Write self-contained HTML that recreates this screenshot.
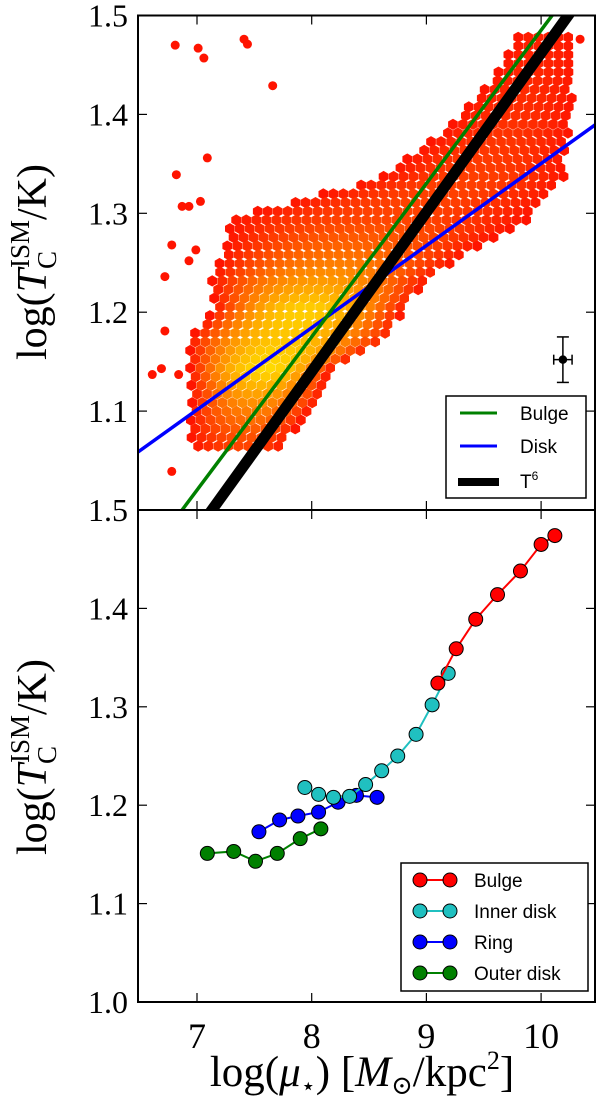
<!DOCTYPE html>
<html><head><meta charset="utf-8"><style>
html,body{margin:0;padding:0;background:#fff;}
svg{display:block;}
text{font-family:"Liberation Serif","DejaVu Serif",serif;}
.leg{font-family:"Liberation Sans","DejaVu Sans",sans-serif;font-size:19px;}
</style></head><body>
<svg id="fig" width="600" height="1113" viewBox="0 0 600 1113" xmlns="http://www.w3.org/2000/svg">
<defs>
<clipPath id="clipTop"><rect x="138" y="15" width="457" height="495"/></clipPath>
<clipPath id="clipBot"><rect x="138" y="510" width="457" height="493"/></clipPath>
</defs>
<g id="topHex" clip-path="url(#clipTop)"></g>
<g id="topLines" clip-path="url(#clipTop)"></g>
<g id="botSeries" clip-path="url(#clipBot)"></g>
<g id="axes"></g>
<g id="legTop">
<rect x="446" y="396" width="140" height="102" fill="#fff" stroke="#000" stroke-width="1.5"/>
<line x1="460" y1="413" x2="497" y2="413" stroke="#008000" stroke-width="3"/>
<text class="leg" x="520" y="420">Bulge</text>
<line x1="460" y1="446" x2="497" y2="446" stroke="#0000ff" stroke-width="3"/>
<text class="leg" x="520" y="453">Disk</text>
<line x1="458" y1="482" x2="499" y2="482" stroke="#000" stroke-width="8"/>
<text class="leg" x="520" y="488">T<tspan dy="-8" font-size="12">6</tspan></text>
</g>
<g id="legBot">
<rect x="401" y="863" width="187" height="128" fill="#fff" stroke="#000" stroke-width="1.5"/>
</g>
<text x="46" y="262" font-size="42" text-anchor="middle" transform="rotate(-90 46 262)">log(<tspan font-style="italic">T</tspan><tspan font-size="27" dy="10">C</tspan><tspan font-size="27" dy="-27" dx="-17">ISM</tspan><tspan dy="17">/K)</tspan></text>
<text x="46" y="757" font-size="42" text-anchor="middle" transform="rotate(-90 46 757)">log(<tspan font-style="italic">T</tspan><tspan font-size="27" dy="10">C</tspan><tspan font-size="27" dy="-27" dx="-17">ISM</tspan><tspan dy="17">/K)</tspan></text>
<text x="362" y="1086" font-size="43" text-anchor="middle">log(<tspan font-style="italic">μ</tspan><tspan font-size="24" dy="8">⋆</tspan><tspan dy="-8">) [</tspan><tspan font-style="italic">M</tspan><tspan font-size="26" dy="8">⊙</tspan><tspan dy="-8">/kpc</tspan><tspan font-size="26" dy="-17">2</tspan><tspan dy="17">]</tspan></text>
</svg>
<script>
// ---- data ----
const xTicks = [7, 8, 9, 10];
const yTicksTop = [1.1, 1.2, 1.3, 1.4, 1.5];
const yTicksBot = [1.0, 1.1, 1.2, 1.3, 1.4];
const rowY    = [1.056,1.081,1.112,1.142,1.173,1.203,1.234,1.264,1.295,1.335,1.386,1.437,1.478];
const rowMin  = [6.98, 6.94, 6.96, 6.94, 6.94, 7.16, 7.13, 7.26, 7.30, 8.60, 9.20, 9.60, 9.80];
const rowMax  = [7.72, 7.85, 8.07, 8.16, 8.68, 8.81, 9.03, 9.40, 9.90, 10.20,10.25,10.30,10.30];
const rowPeak = [7.40, 7.45, 7.50, 7.60, 7.75, 7.95, 8.10, 8.30, 8.60, 9.40, 9.70, 9.90, 10.0];
const rowLevel= [0.15, 0.30, 0.55, 0.85, 0.75, 0.80, 0.55, 0.35, 0.20, 0.18, 0.12, 0.08, 0.05];
const outX = [6.81,7.01,7.06,7.41,7.44,7.66,7.09,6.82,6.87,6.93,7.03,6.78,6.99,6.93,6.72,6.72,6.61,6.69,6.84,6.78,10.34];
const outY = [1.470,1.467,1.457,1.476,1.471,1.429,1.356,1.339,1.307,1.307,1.312,1.268,1.263,1.252,1.236,1.181,1.137,1.143,1.137,1.039,1.476];
const bulgeFit = [0.155, 6.87, 1.0];   // slope, x0, y0
const diskFit  = [0.083, 6.55, 1.064];
const t6Fit    = [0.161, 7.13, 1.0];
const errX = 10.19, errY = 1.152, errXE = 0.08, errYE = 0.023;
const bulgeX = [9.10,9.26,9.43,9.62,9.82,10.00,10.12];
const bulgeY = [1.324,1.359,1.389,1.414,1.438,1.465,1.474];
const innerX = [7.94,8.06,8.19,8.33,8.47,8.61,8.75,8.91,9.05,9.19];
const innerY = [1.218,1.211,1.208,1.209,1.221,1.235,1.250,1.272,1.302,1.334];
const ringX  = [7.54,7.72,7.88,8.06,8.23,8.39,8.57];
const ringY  = [1.173,1.185,1.189,1.193,1.203,1.210,1.208];
const outerX = [7.09,7.32,7.51,7.70,7.90,8.08];
const outerY = [1.151,1.153,1.143,1.151,1.166,1.176];

// ---- scales ----
const X0 = 138, X1 = 595, TOP = 15.5, MID = 510, BOT = 1002;
function sx(v){ return 197 + (v - 7) * 114.7; }
function syT(v){ return MID - (v - 1.0) * 989; }
function syB(v){ return BOT - (v - 1.0) * 984; }
const NS = "http://www.w3.org/2000/svg";
function mk(tag, attrs, parent){ const e = document.createElementNS(NS, tag); for (const k in attrs) e.setAttribute(k, attrs[k]); parent.appendChild(e); return e; }
function interp(arr, y){
  if (y <= rowY[0]) return arr[0];
  for (let i = 1; i < rowY.length; i++) if (y <= rowY[i]) { const t = (y - rowY[i-1])/(rowY[i]-rowY[i-1]); return arr[i-1] + t*(arr[i]-arr[i-1]); }
  return arr[arr.length-1];
}

// ---- hexbin ----
const hexG = document.getElementById('topHex');
const dxp = 10, dyp = 8.7;
let r = 0;
for (let py = syT(rowY[rowY.length-1]); py <= syT(rowY[0]) + 0.1; py += dyp, r++) {
  const yv = 1.0 + (MID - py) / 989;
  const mn = interp(rowMin, yv), mx = interp(rowMax, yv), pk = interp(rowPeak, yv), lv = interp(rowLevel, yv);
  for (let px = sx(mn) + (r % 2 ? dxp/2 : 0); px <= sx(mx); px += dxp) {
    const xv = 7 + (px - 197) / 114.7;
    const half = xv < pk ? (pk - mn) : (mx - pk);
    const d = Math.min(1, Math.abs(xv - pk) / Math.max(half, 0.05));
    const inten = Math.max(0, lv * (1 - d * d));
    const g = Math.round(20 + 235 * inten);
    const pts = [];
    for (let k = 0; k < 6; k++) { const a = Math.PI/6 + k*Math.PI/3; pts.push((px + 5.6*Math.cos(a)).toFixed(1) + ',' + (py + 5.6*Math.sin(a)).toFixed(1)); }
    const h = mk('polygon', {points: pts.join(' '), fill: 'rgb(255,' + g + ',0)'}, hexG);
    
    
  }
}
for (let i = 0; i < outX.length; i++) {
  const c = mk('circle', {cx: sx(outX[i]), cy: syT(outY[i]), r: 4.5, fill: '#ff1400'}, hexG);
  
  
}

// ---- fit lines ----
const lineG = document.getElementById('topLines');
function fitLine(f, color, w, name){
  const xa = 6.3, xb = 10.6;
  const l = mk('line', {x1: sx(xa), y1: syT(f[2] + f[0]*(xa - f[1])), x2: sx(xb), y2: syT(f[2] + f[0]*(xb - f[1])), stroke: color, 'stroke-width': w}, lineG);
  
  
}
fitLine(diskFit, '#0000ff', 3.5, 'disk-fit-line');
fitLine(bulgeFit, '#008000', 3.5, 'bulge-fit-line');
fitLine(t6Fit, '#000000', 11, 't6-line');
const eb = mk('g', {stroke: '#000', 'stroke-width': 1.5}, lineG);


mk('line', {x1: sx(errX), x2: sx(errX), y1: syT(errY+errYE), y2: syT(errY-errYE)}, eb);
mk('line', {x1: sx(errX)-6, x2: sx(errX)+6, y1: syT(errY+errYE), y2: syT(errY+errYE)}, eb);
mk('line', {x1: sx(errX)-6, x2: sx(errX)+6, y1: syT(errY-errYE), y2: syT(errY-errYE)}, eb);
mk('line', {x1: sx(errX-errXE), x2: sx(errX+errXE), y1: syT(errY), y2: syT(errY)}, eb);
mk('line', {x1: sx(errX-errXE), x2: sx(errX-errXE), y1: syT(errY)-5, y2: syT(errY)+5}, eb);
mk('line', {x1: sx(errX+errXE), x2: sx(errX+errXE), y1: syT(errY)-5, y2: syT(errY)+5}, eb);
mk('circle', {cx: sx(errX), cy: syT(errY), r: 3.5, fill: '#000'}, eb);

// ---- bottom series ----
const botG = document.getElementById('botSeries');
function series(xs, ys, color, name){
  const g = mk('g', {}, botG);
  
  
  mk('polyline', {points: xs.map((v,i) => sx(v) + ',' + syB(ys[i])).join(' '), fill: 'none', stroke: color, 'stroke-width': 2}, g);
  xs.forEach((v, i) => {
    const c = mk('circle', {cx: sx(v), cy: syB(ys[i]), r: 7, fill: color, stroke: '#000', 'stroke-width': 1}, g);
    
    
  });
}
series(outerX, outerY, '#008000', 'outer-disk-series');
series(ringX, ringY, '#0000ff', 'ring-series');
series(innerX, innerY, '#20c0c0', 'inner-disk-series');
series(bulgeX, bulgeY, '#ff0000', 'bulge-series');

// ---- bottom legend ----
const lb = document.getElementById('legBot');
const legNames = ['Bulge', 'Inner disk', 'Ring', 'Outer disk'];
const legCols = ['#ff0000', '#20c0c0', '#0000ff', '#008000'];
legNames.forEach((n, i) => {
  const y = 880 + i * 31;
  const g = mk('g', {}, lb);
  
  
  mk('line', {x1: 420, y1: y, x2: 450, y2: y, stroke: legCols[i], 'stroke-width': 2}, g);
  mk('circle', {cx: 420, cy: y, r: 7, fill: legCols[i], stroke: '#000'}, g);
  mk('circle', {cx: 450, cy: y, r: 7, fill: legCols[i], stroke: '#000'}, g);
  const t = mk('text', {x: 474, y: y + 7, class: 'leg'}, g);
  t.textContent = n;
});

// ---- axes ----
const ax = document.getElementById('axes');
[[TOP, MID, 'top-panel-frame'], [MID, BOT, 'bottom-panel-frame']].forEach(([a, b, nm]) => {
  const f = mk('rect', {x: X0, y: a, width: X1 - X0, height: b - a, fill: 'none', stroke: '#000', 'stroke-width': 2}, ax);
  
  
  xTicks.forEach(v => {
    mk('line', {x1: sx(v), x2: sx(v), y1: b, y2: b - 9, stroke: '#000', 'stroke-width': 1.2}, ax);
    mk('line', {x1: sx(v), x2: sx(v), y1: a, y2: a + 9, stroke: '#000', 'stroke-width': 1.2}, ax);
  });
});
function yt(v, y, name){
  mk('line', {x1: X0, x2: X0 + 9, y1: y, y2: y, stroke: '#000', 'stroke-width': 1.2}, ax);
  mk('line', {x1: X1, x2: X1 - 9, y1: y, y2: y, stroke: '#000', 'stroke-width': 1.2}, ax);
  const t = mk('text', {x: 128, y: y + 11, 'font-size': 32, 'text-anchor': 'end'}, ax);
  t.textContent = v.toFixed(1);
  
  
}
yTicksTop.forEach(v => yt(v, syT(v), 'y-tick-label-top'));
yt(1.5, MID, 'y-tick-label-top');
yTicksBot.forEach(v => { if (v > 1.0) yt(v, syB(v), 'y-tick-label-bottom'); });
yt(1.0, BOT, 'y-tick-label-bottom');
xTicks.forEach(v => {
  const t = mk('text', {x: sx(v), y: 1048, 'font-size': 36, 'text-anchor': 'middle'}, ax);
  t.textContent = String(v);
  
  
});
</script>
</body></html>
